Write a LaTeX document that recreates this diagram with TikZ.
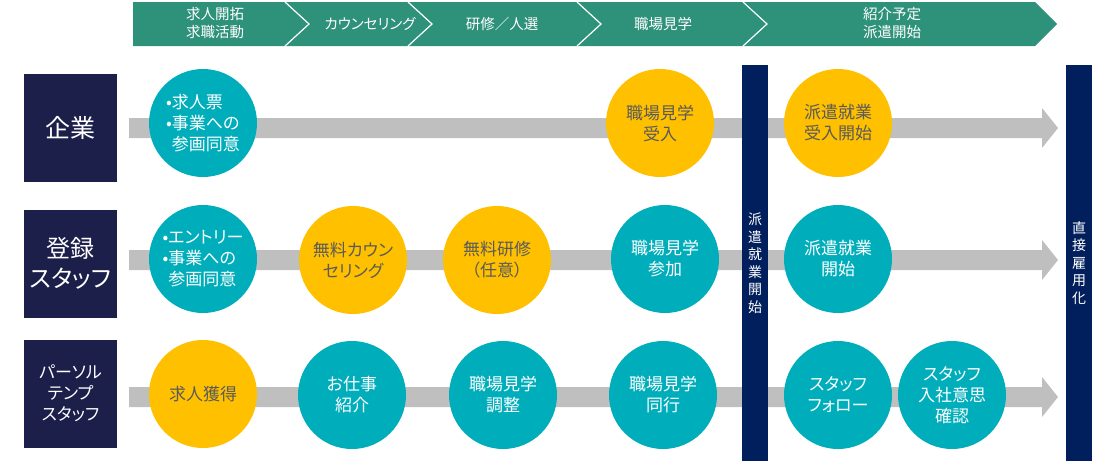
\documentclass[tikz,border=0pt]{standalone}
\usepackage{fontspec}
\setmainfont{Noto Sans CJK JP}[RawFeature=+palt]
\usetikzlibrary{positioning}
\definecolor{flowteal}{HTML}{2E917A}
\definecolor{rownavy}{HTML}{1C1F4A}
\definecolor{barnavy}{HTML}{001F5C}
\definecolor{dotteal}{HTML}{00AEBB}
\definecolor{dotyellow}{HTML}{FFC000}
\definecolor{dotgray}{HTML}{5A5A5A}
\definecolor{bandgray}{HTML}{BFBFBF}

\begin{document}
\begin{tikzpicture}[x=1pt,y=-1pt,>=stealth,
    rowlabel/.style={fill=rownavy,text=white,minimum width=93pt,minimum height=108pt,align=center,inner sep=0pt},
    tealdot/.style={circle,fill=dotteal,text=white,minimum size=108pt,inner sep=0pt,align=center,font=\fontsize{17}{21}\selectfont},
    yellowdot/.style={tealdot,fill=dotyellow,text=dotgray},
    steptext/.style={text=white,align=center,font=\fontsize{14.5}{18}\selectfont},
    vbar/.style={fill=barnavy,text=white,minimum width=26pt,minimum height=396pt,inner sep=0pt,align=center,font=\fontsize{14}{17.5}\selectfont}]
    \useasboundingbox (0,0) rectangle (1096,461);
    % flow header
    \fill[flowteal] (133,2) -- (1035,2) -- (1057,24) -- (1035,46) -- (133,46) -- cycle;
    \foreach \bx in {285,408,577,743}
    	\draw[white,line width=1.2pt] (\bx,2) -- (\bx+24,24) -- (\bx,46);
    \node[steptext] (s1) at (215,23) {求人開拓\\求職活動};
    \node[steptext] (s2) at (370,24) {カウンセリング};
    \node[steptext] (s3) at (502,24) {研修／人選};
    \node[steptext] (s4) at (663,24) {職場見学};
    \node[steptext] (s5) at (892,23) {紹介予定\\派遣開始};
    % row bands
    \foreach \ry in {128,260,397}
    	\fill[bandgray] (129,\ry-10) -- (1042,\ry-10) -- (1042,\ry-20) -- (1058,\ry) -- (1042,\ry+20) -- (1042,\ry+10) -- (129,\ry+10) -- cycle;
    % row labels
    \node[rowlabel,font=\fontsize{25}{30}\selectfont] (r1) at (70.5,128) {企業};
    \node[rowlabel,font=\fontsize{24}{30}\selectfont] (r2) at (70.5,263.5) {登録\\スタッフ};
    \node[rowlabel,font=\fontsize{17}{21}\selectfont] (r3) at (70.5,393.5) {パーソル\\テンプ\\スタッフ};
    % milestones
    \node[vbar] (m1) at (755,263) {派\\遣\\就\\業\\開\\始};
    \node[vbar] (m2) at (1079,263) {直\\接\\雇\\用\\化};
    % row 1
    \node[tealdot,align=left] (a1) at (203,123) {•求人票\\•事業への\\\phantom{•}参画同意};
    \foreach \n/\x/\txt in {a2/660/{職場見学\\受入}, a3/838/{派遣就業\\受入開始}}
    	\node[yellowdot] (\n) at (\x,123) {\txt};
    % row 2
    \node[tealdot,align=left] (b1) at (203,259) {•エントリー\\•事業への\\\phantom{•}参画同意};
    \foreach \n/\x/\txt in {b2/353/{無料カウン\\セリング}, b3/497/{無料研修\\（任意）}}
    	\node[yellowdot] (\n) at (\x,260) {\txt};
    \foreach \n/\x/\txt in {b4/665/{職場見学\\参加}, b5/838/{派遣就業\\開始}}
    	\node[tealdot] (\n) at (\x,259) {\txt};
    % row 3
    \node[yellowdot] (c1) at (203,394) {求人獲得};
    \foreach \n/\x/\txt in {c2/352/{お仕事\\紹介}, c3/503/{職場見学\\調整}, c4/663/{職場見学\\同行}, c5/838/{スタッフ\\フォロー}, c6/952/{スタッフ\\入社意思\\確認}}
    	\node[tealdot] (\n) at (\x,395) {\txt};
\end{tikzpicture}
\end{document}
